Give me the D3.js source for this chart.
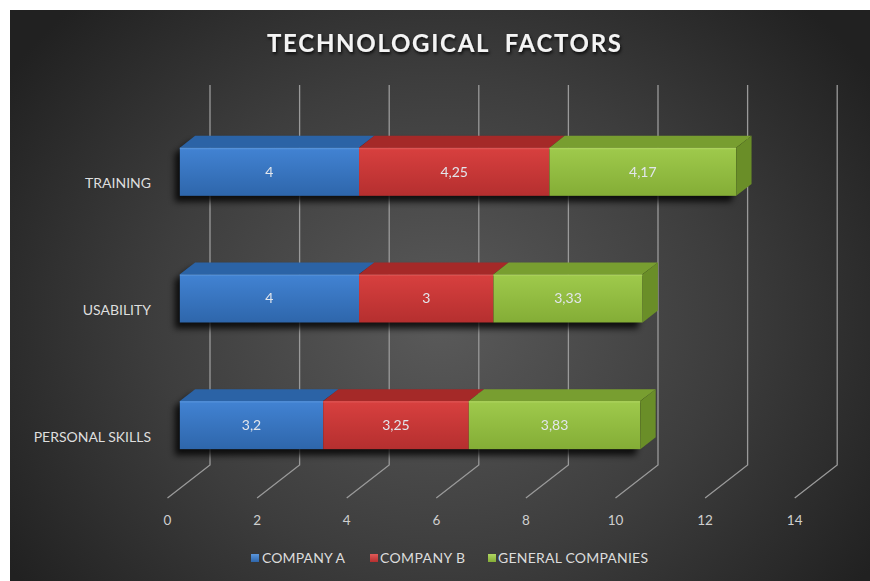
<!DOCTYPE html>
<html>
<head>
<meta charset="utf-8">
<script src="https://cdnjs.cloudflare.com/ajax/libs/d3/7.8.5/d3.min.js"></script>
<style>
  html, body { margin: 0; padding: 0; background: #ffffff; }
  svg { display: block; }
  text { font-family: Lato, "Open Sans", "DejaVu Sans", sans-serif; }
</style>
</head>
<body>
<svg id="chart" width="870" height="581"></svg>
<script>
// Technological factors: 3D stacked horizontal bars
const categories = ["TRAINING", "USABILITY", "PERSONAL SKILLS"];
const companyA = [4, 4, 3.2];
const companyB = [4.25, 3, 3.25];
const generalCompanies = [4.17, 3.33, 3.83];
const seriesNames = ["COMPANY A", "COMPANY B", "GENERAL COMPANIES"];
const xTickValues = [0, 2, 4, 6, 8, 10, 12, 14];
const valueLabels = [
  ["4", "4", "3,2"],
  ["4,25", "3", "3,25"],
  ["4,17", "3,33", "3,83"]
];

const W = 870, H = 581;
const svg = d3.select("#chart");
const defs = svg.append("defs");

// Plot geometry (front floor plane) and depth vector
const DX = 42.5, DY = -33;      // full depth of the floor
const F0 = 0.29, F1 = 0.65;     // bar front / back depth fractions
const plotTop = 118, plotBottom = 498;

const x = d3.scaleLinear().domain([0, 14]).range([167.5, 794.7]);
const y = d3.scaleBand().domain(categories).range([plotTop, plotBottom])
  .paddingInner(0.62).paddingOuter(0.31);

const P = (v, py, f) => [x(v) + f * DX, py + f * DY];

// Background
const bg = defs.append("radialGradient").attr("id", "bgGrad")
  .attr("gradientUnits", "userSpaceOnUse")
  .attr("cx", 440).attr("cy", 320).attr("r", 520)
  .attr("gradientTransform", "translate(440,320) scale(1,0.85) translate(-440,-320)");
bg.append("stop").attr("offset", "0%").attr("stop-color", "#5a5a5a");
bg.append("stop").attr("offset", "55%").attr("stop-color", "#3d3d3d");
bg.append("stop").attr("offset", "100%").attr("stop-color", "#212121");
svg.append("rect").attr("x", 10).attr("y", 10).attr("width", W - 10).attr("height", H - 10)
  .attr("fill", "url(#bgGrad)");

// Colour sets per series
const palette = [
  { front: ["#4283d3", "#2e66ab"], top: "#2b63a6", side: "#24558f", hi: "#5a96dc" },
  { front: ["#d8403f", "#b52f2f"], top: "#a52928", side: "#8d2222", hi: "#e05a58" },
  { front: ["#9fca4c", "#84ad36"], top: "#789e30", side: "#6a8e28", hi: "#b0d662" }
];
palette.forEach((c, i) => {
  const g = defs.append("linearGradient").attr("id", "front" + i)
    .attr("x1", 0).attr("y1", 0).attr("x2", 0).attr("y2", 1);
  g.append("stop").attr("offset", "0%").attr("stop-color", c.front[0]);
  g.append("stop").attr("offset", "100%").attr("stop-color", c.front[1]);
  const s = defs.append("linearGradient").attr("id", "swatch" + i)
    .attr("x1", 0).attr("y1", 0).attr("x2", 0).attr("y2", 1);
  s.append("stop").attr("offset", "0%").attr("stop-color", c.hi);
  s.append("stop").attr("offset", "100%").attr("stop-color", c.front[1]);
});

const shadow = defs.append("filter").attr("id", "barShadow")
  .attr("x", "-20%").attr("y", "-40%").attr("width", "140%").attr("height", "180%");
shadow.append("feGaussianBlur").attr("stdDeviation", 3);

const titleShadow = defs.append("filter").attr("id", "titleShadow")
  .attr("x", "-10%").attr("y", "-30%").attr("width", "120%").attr("height", "160%");
titleShadow.append("feDropShadow").attr("dx", 1).attr("dy", 2).attr("stdDeviation", 1.5)
  .attr("flood-color", "#000").attr("flood-opacity", 0.8);

// Grid: floor diagonals and back-wall verticals
const grid = svg.append("g").attr("stroke", "#9a9a9a").attr("stroke-width", 1.3).attr("fill", "none");
xTickValues.forEach(v => {
  const a = P(v, plotBottom, 0), b = P(v, plotBottom, 1), c = P(v, plotTop, 1);
  grid.append("path").attr("d", d3.line()([a, b, c]));
});

// Axis tick labels
svg.append("g").selectAll("text").data(xTickValues).join("text")
  .attr("x", d => x(d)).attr("y", 525)
  .attr("text-anchor", "middle").attr("fill", "#cfcfcf").attr("font-size", 13.5)
  .text(d => d);

// Category labels
svg.append("g").selectAll("text").data(categories).join("text")
  .attr("x", 151).attr("y", d => y(d) + y.bandwidth() / 2 + 7)
  .attr("text-anchor", "end").attr("fill", "#dedede").attr("font-size", 14)
  .text(d => d);

// Stacked data
const rows = categories.map((c, i) => ({ cat: c, s0: companyA[i], s1: companyB[i], s2: generalCompanies[i] }));
const stacked = d3.stack().keys(["s0", "s1", "s2"])(rows);

const poly = pts => d3.line()(pts) + "Z";

// Soft shadows behind each bar
const shadowG = svg.append("g").attr("filter", "url(#barShadow)").attr("opacity", 0.8);
rows.forEach((r, ri) => {
  const y0 = y(r.cat), y1 = y0 + y.bandwidth();
  const end = stacked[2][ri][1];
  shadowG.append("path").attr("fill", "#000").attr("transform", "translate(-5,6)")
    .attr("d", poly([P(0, y0, F1), P(end, y0, F1), P(end, y1, F0), P(0, y1, F0), P(0, y0, F0)]));
});

// Bars
const barsG = svg.append("g");
rows.forEach((r, ri) => {
  const y0 = y(r.cat), y1 = y0 + y.bandwidth();
  const g = barsG.append("g");
  stacked.forEach((series, si) => {
    const [a, b] = series[ri];
    const c = palette[si];
    // top face
    g.append("path").attr("fill", c.top)
      .attr("d", poly([P(a, y0, F0), P(b, y0, F0), P(b, y0, F1), P(a, y0, F1)]));
    // front face
    const fa = P(a, y0, F0), fb = P(b, y1, F0);
    g.append("rect").attr("x", fa[0]).attr("y", fa[1])
      .attr("width", fb[0] - fa[0]).attr("height", fb[1] - fa[1])
      .attr("fill", `url(#front${si})`);
    g.append("line").attr("x1", fa[0]).attr("x2", fb[0]).attr("y1", fa[1] + 0.8).attr("y2", fa[1] + 0.8)
      .attr("stroke", c.hi).attr("stroke-width", 1.4).attr("opacity", 0.8);
    // right side of the final segment
    if (si === stacked.length - 1) {
      g.append("path").attr("fill", c.side)
        .attr("d", poly([P(b, y0, F0), P(b, y0, F1), P(b, y1, F1), P(b, y1, F0)]));
    }
    // value label
    g.append("text")
      .attr("x", (fa[0] + fb[0]) / 2).attr("y", (fa[1] + fb[1]) / 2 + 5)
      .attr("text-anchor", "middle").attr("fill", "#e2e6ec").attr("font-size", 14)
      .text(valueLabels[si][ri]);
  });
});

// Title
svg.append("text")
  .attr("x", 444).attr("y", 52).attr("text-anchor", "middle")
  .attr("fill", "#f4f4f4").attr("font-size", 24).attr("font-weight", "bold")
  .attr("filter", "url(#titleShadow)")
  .attr("textLength", 354).attr("lengthAdjust", "spacing")
  .style("white-space", "pre")
  .text("TECHNOLOGICAL  FACTORS");

// Legend
const legendItems = [
  { name: seriesNames[0], sx: 251, tx: 262, w: 83 },
  { name: seriesNames[1], sx: 370, tx: 380, w: 85 },
  { name: seriesNames[2], sx: 488, tx: 498, w: 150 }
];
const lg = svg.append("g");
legendItems.forEach((d, i) => {
  lg.append("rect").attr("x", d.sx).attr("y", 554).attr("width", 8).attr("height", 8)
    .attr("fill", `url(#swatch${i})`);
  lg.append("text").attr("x", d.tx).attr("y", 563).attr("fill", "#dcdcdc").attr("font-size", 14)
    .attr("textLength", d.w).attr("lengthAdjust", "spacing")
    .text(d.name);
});
</script>
</body>
</html>
